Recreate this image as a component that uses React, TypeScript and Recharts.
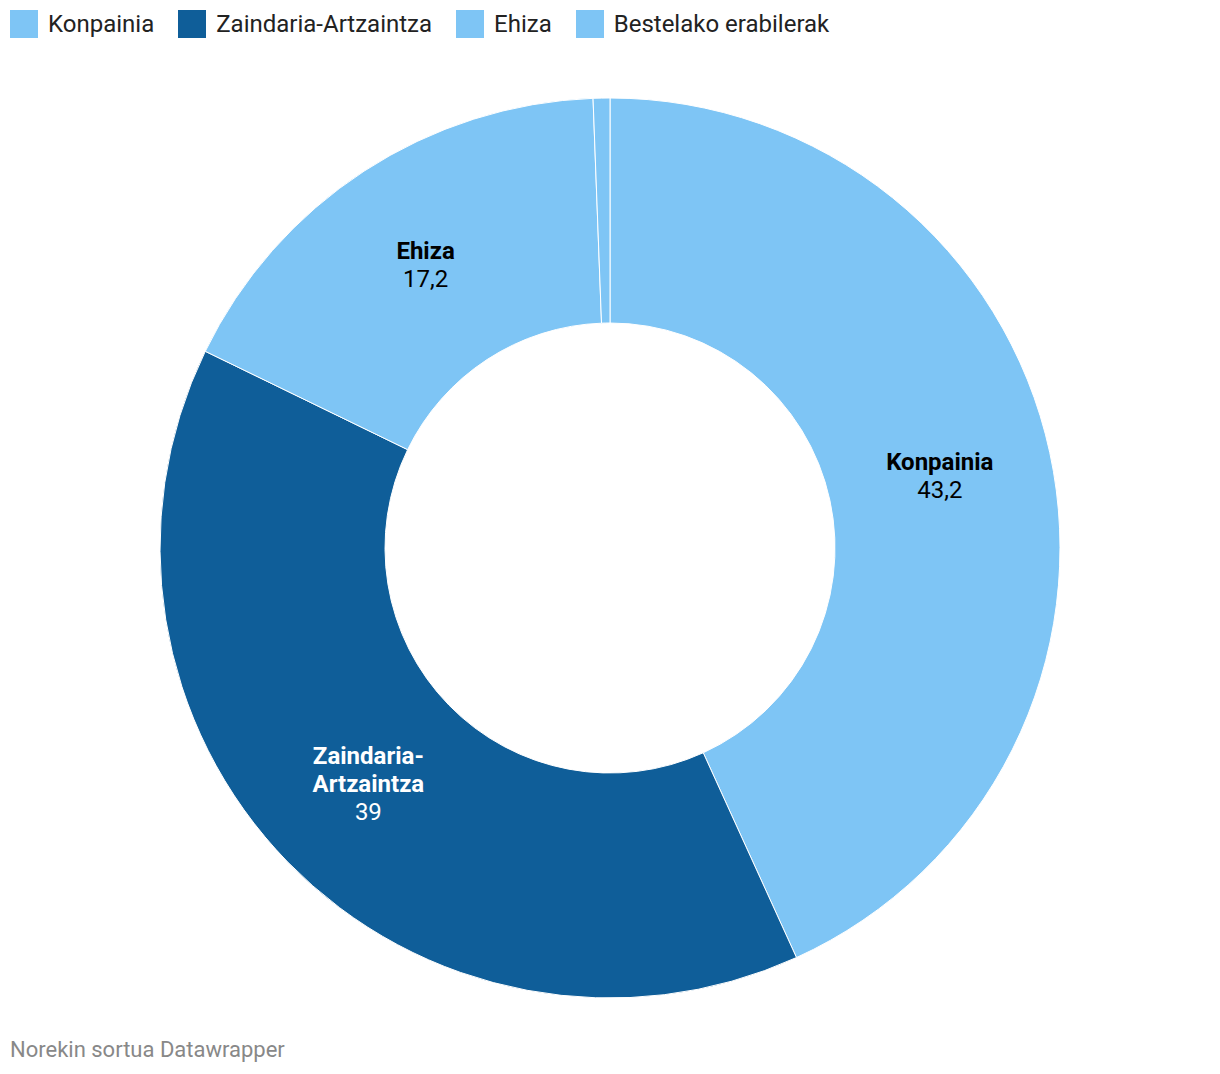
import React from "react";
import { PieChart, Pie, Cell } from "recharts";

const categories = ["Konpainia", "Zaindaria-Artzaintza", "Ehiza", "Bestelako erabilerak"];
const values = [43.2, 39, 17.2, 0.6];
const labelLines = [["Konpainia"], ["Zaindaria-", "Artzaintza"], ["Ehiza"], []];
const colors = ["#7ec5f5", "#0f5e99", "#7ec5f5", "#7ec5f5"];
const labelColors = ["#000000", "#ffffff", "#000000", "#000000"];
const footerText = "Norekin sortua Datawrapper";

const data = categories.map((c, i) => ({ name: c, value: values[i] }));

const fmt = (v: number) => String(v).replace(".", ",");

const RAD = Math.PI / 180;
const FONT = "Roboto, 'Noto Sans', sans-serif";

const renderLabel = (props: any) => {
  const { cx, cy, midAngle, innerRadius, outerRadius, index, value } = props;
  const lines = labelLines[index];
  if (!lines || lines.length === 0) return null;
  const r = (innerRadius + outerRadius) / 2;
  const x = cx + r * Math.cos(-midAngle * RAD);
  const y = cy + r * Math.sin(-midAngle * RAD);
  const all = [...lines.map((t) => ({ t, bold: true })), { t: fmt(value), bold: false }];
  const lh = 28;
  const startY = y - ((all.length - 1) * lh) / 2;
  return (
    <g>
      {all.map((l, i) => (
        <text
          key={i}
          x={x}
          y={startY + i * lh}
          textAnchor="middle"
          dominantBaseline="central"
          fill={labelColors[index]}
          fontFamily={FONT}
          fontSize={24}
          fontWeight={l.bold ? 700 : 400}
        >
          {l.t}
        </text>
      ))}
    </g>
  );
};

export default function App() {
  return (
    <div
      style={{
        position: "absolute",
        left: 0,
        top: 0,
        width: 1220,
        height: 1074,
        background: "#fff",
        fontFamily: FONT,
      }}
    >
      <div
        style={{
          position: "absolute",
          left: 10,
          top: 10,
          display: "flex",
          alignItems: "center",
          height: 28,
        }}
      >
        {categories.map((c, i) => (
          <div key={c} style={{ display: "flex", alignItems: "center", marginRight: 24 }}>
            <div style={{ width: 28, height: 28, background: colors[i], marginRight: 10 }} />
            <span style={{ fontSize: 24, color: "#222", lineHeight: "28px" }}>{c}</span>
          </div>
        ))}
      </div>
      <div style={{ position: "absolute", left: 0, top: 0 }}>
        <PieChart width={1220} height={1074} margin={{ top: 0, right: 0, bottom: 0, left: 0 }}>
          <Pie
            data={data}
            dataKey="value"
            nameKey="name"
            cx={610}
            cy={548}
            innerRadius={225}
            outerRadius={450}
            startAngle={90}
            endAngle={-270}
            stroke="#ffffff"
            strokeWidth={1}
            label={renderLabel}
            labelLine={false}
            isAnimationActive={false}
          >
            {data.map((d, i) => (
              <Cell key={d.name} fill={colors[i]} />
            ))}
          </Pie>
        </PieChart>
      </div>
      <div
        style={{
          position: "absolute",
          left: 10,
          top: 1037,
          fontSize: 22,
          color: "#888",
          lineHeight: "26px",
        }}
      >
        {footerText}
      </div>
    </div>
  );
}
